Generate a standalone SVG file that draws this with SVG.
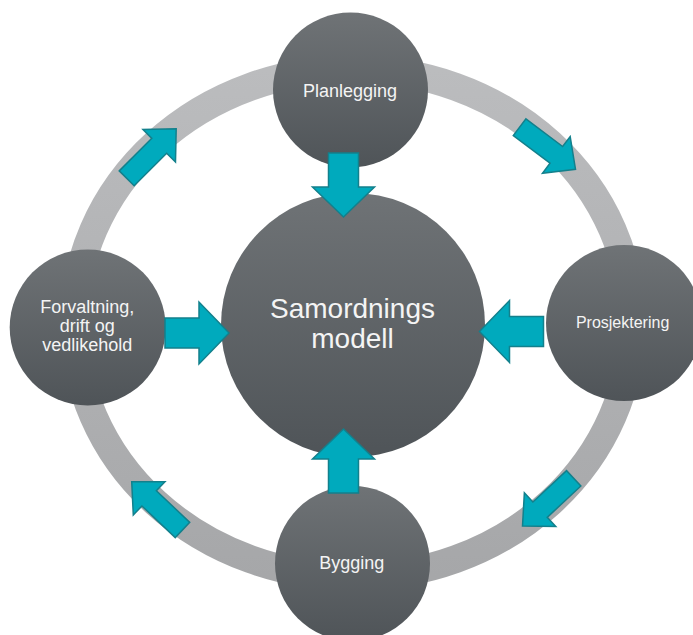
<svg xmlns="http://www.w3.org/2000/svg" width="693" height="635" viewBox="0 0 693 635">
  <defs>
    <linearGradient id="discFill" x1="0" y1="0" x2="0" y2="1">
      <stop offset="0" stop-color="#6f7376"/>
      <stop offset="1" stop-color="#4f5458"/>
    </linearGradient>
    <linearGradient id="ringStroke" x1="0" y1="0" x2="0" y2="1">
      <stop offset="0" stop-color="#bbbcbe"/>
      <stop offset="1" stop-color="#a6a7a9"/>
    </linearGradient>
    <!-- block arrow pointing along +x, origin at tail centre -->
    <path id="bigArrow" d="M0,-15 L34,-15 L34,-31 L64,0 L34,31 L34,15 L0,15 Z"/>
    <path id="smallArrow" d="M0,-10.5 L46,-10.5 L46,-23 L70,0 L46,23 L46,10.5 L0,10.5 Z"/>
  </defs>
  <style>
    .disc { fill: url(#discFill); }
    .arrow { fill: #00aabd; stroke: #13808c; stroke-width: 1.5; stroke-linejoin: miter; }
    .label { font-family: "Liberation Sans", Arial, sans-serif; fill: #f4f4f4; text-anchor: middle; }
  </style>

  <rect width="693" height="635" fill="#ffffff"/>

  <!-- cycle ring -->
  <g id="cycle-ring">
    <ellipse cx="353" cy="323" rx="279" ry="254" fill="none" stroke="url(#ringStroke)" stroke-width="28"/>
  </g>

  <!-- connectors -->
  <g id="connectors">
    <!-- arrows along the ring -->
    <use href="#smallArrow" class="arrow" transform="translate(519.6,127.2) rotate(37)"/>
    <use href="#smallArrow" class="arrow" transform="translate(573.7,478.3) rotate(137)"/>
    <use href="#smallArrow" class="arrow" transform="translate(182.5,530) rotate(-136.5)"/>
    <use href="#smallArrow" class="arrow" transform="translate(126.7,178.3) rotate(-45)"/>
  </g>

  <g id="node-samordningsmodell">
    <circle class="disc" cx="353" cy="325" r="132"/>
    <text class="label" x="352.5" y="318" font-size="28">Samordnings</text>
    <text class="label" x="352.5" y="347.5" font-size="28">modell</text>
  </g>

  <g id="node-planlegging">
    <circle class="disc" cx="350.5" cy="90" r="77.5"/>
    <text class="label" x="350" y="97" font-size="18">Planlegging</text>
  </g>

  <g id="node-prosjektering">
    <circle class="disc" cx="624" cy="323" r="78"/>
    <text class="label" x="622.6" y="328" font-size="16">Prosjektering</text>
  </g>

  <g id="node-bygging">
    <circle class="disc" cx="352.5" cy="563.5" r="77.5"/>
    <text class="label" x="351.7" y="569" font-size="18">Bygging</text>
  </g>

  <g id="node-forvaltning">
    <circle class="disc" cx="87.7" cy="327.5" r="78"/>
    <text class="label" x="87.3" y="312.7" font-size="18">Forvaltning,</text>
    <text class="label" x="87.3" y="331.7" font-size="18">drift og</text>
    <text class="label" x="87.3" y="350.7" font-size="18">vedlikehold</text>
  </g>

  <!-- arrows into the central model -->
  <g id="connectors-inward">
    <use href="#bigArrow" class="arrow" transform="translate(343.5,153) rotate(90)"/>
    <use href="#bigArrow" class="arrow" transform="translate(343.5,493) rotate(-90)"/>
    <use href="#bigArrow" class="arrow" transform="translate(165,333)"/>
    <use href="#bigArrow" class="arrow" transform="translate(543.5,331.5) rotate(180)"/>
  </g>
</svg>
